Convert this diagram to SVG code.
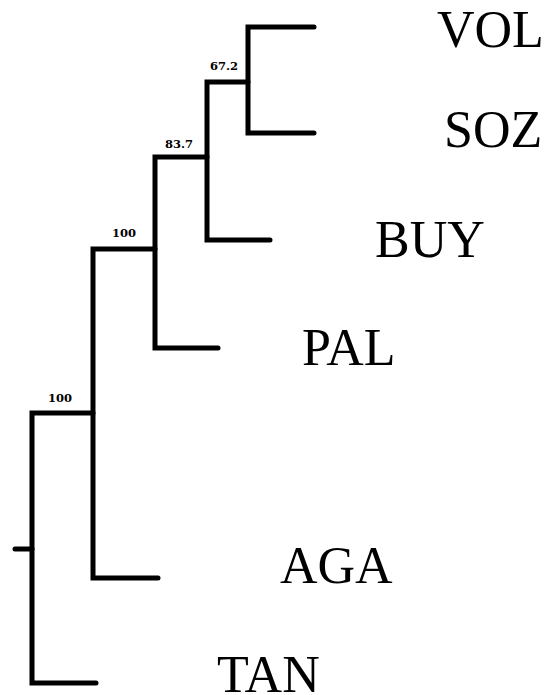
<svg xmlns="http://www.w3.org/2000/svg" width="546" height="695" viewBox="0 0 546 695">
<style>
.br{fill:none;stroke:#000;stroke-width:5;stroke-linecap:round;stroke-linejoin:miter}
.tx{font-family:"Liberation Serif","Times New Roman",serif;font-size:52px;fill:#000}
.bs{font-family:"DejaVu Serif",serif;font-weight:bold;font-size:11.5px;fill:#000}
</style>
<rect width="546" height="695" fill="#fff"/>
<g id="connectors">
<path class="br" d="M15 549H32"/>
<path class="br" d="M96 683H32V413H93"/>
<path class="br" d="M158 578H93V249H155"/>
<path class="br" d="M218 348H155V157H207"/>
<path class="br" d="M270 240H207V82H248"/>
<path class="br" d="M314 27H248V133H314"/>
</g>
<g id="support">
<text class="bs" x="210" y="70">67.2</text>
<text class="bs" x="165" y="148">83.7</text>
<text class="bs" x="112" y="237">100</text>
<text class="bs" x="48" y="402">100</text>
</g>
<g id="VOL"><text class="tx" x="437" y="47">VOL</text></g>
<g id="SOZ"><text class="tx" x="444" y="147">SOZ</text></g>
<g id="BUY"><text class="tx" x="375" y="257">BUY</text></g>
<g id="PAL"><text class="tx" x="302" y="365">PAL</text></g>
<g id="AGA"><text class="tx" x="280" y="583">AGA</text></g>
<g id="TAN"><text class="tx" x="217" y="692">TAN</text></g>
</svg>
